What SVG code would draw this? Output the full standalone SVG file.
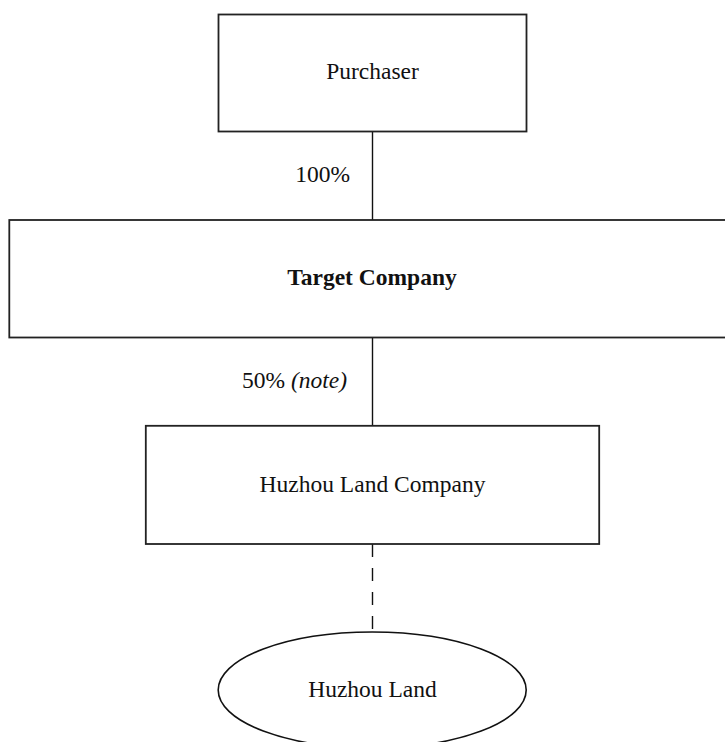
<svg xmlns="http://www.w3.org/2000/svg" width="725" height="742" viewBox="0 0 725 742">
<style>
.box{fill:#fff;stroke:#222;stroke-width:1.8}
.lbl{font-family:"Liberation Serif","Times New Roman",serif;font-size:23.5px;fill:#111;text-anchor:middle}
.pct{font-family:"Liberation Serif","Times New Roman",serif;font-size:23.5px;fill:#111;text-anchor:end}
.ln{stroke:#111;stroke-width:1.4;fill:none}
</style>
<rect width="725" height="742" fill="#fff"/>
<g id="connectors">
<line class="ln" x1="372.5" y1="131.5" x2="372.5" y2="220"/>
<line class="ln" x1="372.5" y1="337.5" x2="372.5" y2="426"/>
<line class="ln" x1="372.5" y1="544" x2="372.5" y2="632" stroke-dasharray="13 11"/>
<text class="pct" x="350" y="182">100%</text>
<text class="pct" x="347" y="388">50% <tspan font-style="italic">(note)</tspan></text>
</g>
<g id="purchaser">
<rect class="box" x="218.5" y="14.5" width="308" height="117"/>
<text class="lbl" x="372.5" y="79">Purchaser</text>
</g>
<g id="target">
<rect class="box" x="9.3" y="220" width="730" height="117.5"/>
<text class="lbl" x="372" y="285" font-weight="bold">Target Company</text>
</g>
<g id="huzhou-company">
<rect class="box" x="145.8" y="425.8" width="453.4" height="118.2"/>
<text class="lbl" x="372.5" y="492">Huzhou Land Company</text>
</g>
<g id="huzhou-land">
<ellipse cx="372.2" cy="690" rx="154" ry="58" fill="#fff" stroke="#111" stroke-width="1.6"/>
<text class="lbl" x="372.5" y="697">Huzhou Land</text>
</g>
</svg>
